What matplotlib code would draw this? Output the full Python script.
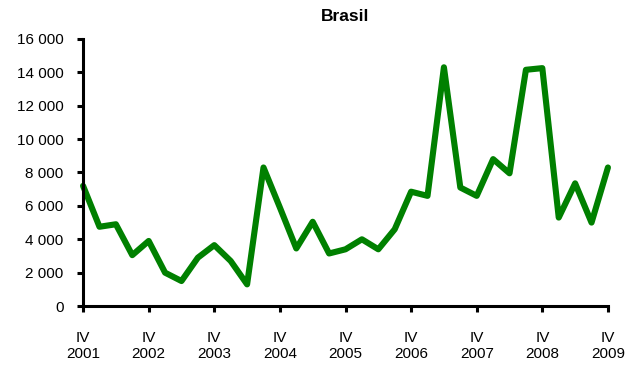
import matplotlib
matplotlib.use('Agg')
import matplotlib.pyplot as plt
from matplotlib.ticker import FuncFormatter

# quarterly values, IV 2001 .. IV 2009
values = [7200, 4750, 4900, 3050, 3900, 2000, 1500, 2900, 3650, 2700, 1300,
          8300, 5900, 3450, 5050, 3150, 3400, 4000, 3400, 4600, 6850, 6600,
          14300, 7100, 6600, 8800, 7950, 14150, 14250, 5300, 7350, 5000, 8300]
years = ['2001', '2002', '2003', '2004', '2005', '2006', '2007', '2008', '2009']
y_ticks = [0, 2000, 4000, 6000, 8000, 10000, 12000, 14000, 16000]

plt.rcParams['font.family'] = ['Liberation Sans', 'DejaVu Sans']

fig = plt.figure(figsize=(6.44, 3.67), dpi=100)
ax = fig.add_axes([0.129, 0.166, 0.815, 0.728])

ax.plot(range(len(values)), values, color=(0, 128 / 255, 0), linewidth=4.4,
        solid_joinstyle='round', solid_capstyle='round', clip_on=False)

ax.set_xlim(0, len(values) - 1)
ax.set_ylim(0, 16000)
ax.set_yticks(y_ticks)
ax.yaxis.set_major_formatter(FuncFormatter(lambda v, p: f'{int(v):,}'.replace(',', ' ')))
ax.set_xticks(range(0, len(values), 4))
ax.set_xticklabels(['IV\n' + y for y in years])

for side in ['top', 'right']:
    ax.spines[side].set_visible(False)
for side in ['left', 'bottom']:
    ax.spines[side].set_linewidth(2.2)
ax.tick_params(axis='both', direction='out', width=2.2, length=4, labelsize=11)
ax.tick_params(axis='x', pad=14)
ax.tick_params(axis='y', pad=10)

ax.set_title('Brasil', fontsize=12.5, fontweight='bold', pad=13)

plt.savefig('out.png', dpi=100)
plt.close()
